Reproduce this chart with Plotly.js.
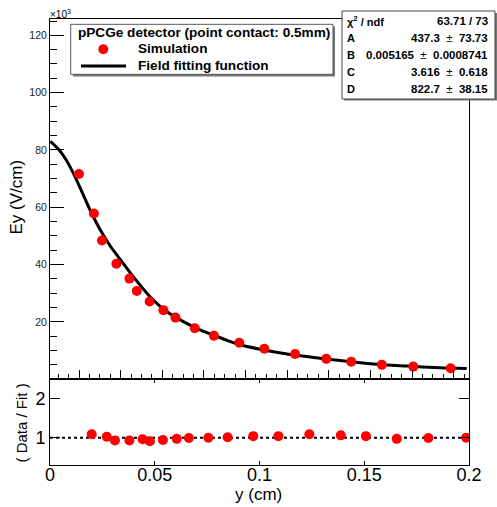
<!DOCTYPE html>
<html>
<head>
<meta charset="utf-8">
<script src="https://cdn.plot.ly/plotly-3.0.1.min.js"></script>
<style>html,body{margin:0;padding:0;background:#fff;}#chart{width:497px;height:507px;}</style>
</head>
<body>
<div id="chart"></div>
<script>
// ---- data (Ey in units of 10^3 V/cm) ----
const ySim = [0.0199,0.0271,0.0310,0.0379,0.0442,0.0477,0.0539,0.0605,0.0663,0.0756,0.0848,0.0970,0.1090,0.1238,0.1388,0.1508,0.1655,0.1806,0.1986];
const eySim = [71.6,57.8,48.4,40.3,35.1,30.8,27.1,24.1,21.5,17.8,15.2,12.7,10.6,8.8,7.1,6.1,5.0,4.4,3.8];
const ratio = [1.088,1.026,0.93,0.93,0.96,0.91,0.94,0.97,0.99,1.0,1.01,1.04,1.04,1.09,1.06,1.04,0.97,0.99,1.0];
const yFit = [0.0062,0.0100,0.0132,0.0172,0.0220,0.0268,0.0316,0.0357,0.0381,0.0460,0.0541,0.0621,0.0701,0.0781,0.0862,0.0917,0.0973,0.1134,0.1294,0.1454,0.1614,0.1775,0.1935,0.2063];
const eyFit = [83.0,80.3,77.2,71.9,64.3,56.7,50.3,45.7,43.4,35.8,28.8,23.6,20.1,17.2,14.9,13.4,12.0,9.6,7.9,6.5,5.3,4.6,4.0,3.7];
const topTicks = [20,40,60,80,100,120];
const statLabels = ["χ<sup>2</sup> / ndf","A","B","C","D"];
const statValues = ["63.71 / 73","437.3 ± 73.73","0.005165 ± 0.0008741","3.616 ± 0.618","822.7 ± 38.15"];
const legendHeader = "pPCGe detector (point contact: 0.5mm)";
const legendNames = ["Simulation","Field fitting function"];
const refLevel = 1;

// ---- pixel -> paper helpers ----
const L=50,R=469,T=19,B=465;
const px = v => (v-L)/(R-L);
const py = v => (B-v)/(B-T);
const FONT = "Liberation Sans, Arial, Helvetica, sans-serif";

const traces = [
  {x: yFit, y: eyFit, xaxis:'x2', yaxis:'y2', mode:'lines', line:{color:'#000', width:3, shape:'spline', smoothing:0.8}, hoverinfo:'skip'},
  {x: ySim, y: eySim, xaxis:'x2', yaxis:'y2', mode:'markers', marker:{color:'#ff0000', size:10}},
  {x: ySim, y: ratio, xaxis:'x', yaxis:'y', mode:'markers', marker:{color:'#ff0000', size:10}}
];

const shapes = [];
const annotations = [];

// ratio reference line
shapes.push({type:'line', xref:'x', yref:'y', x0:0, x1:0.2, y0:refLevel, y1:refLevel, line:{color:'#000', width:2, dash:'3px,3px'}, layer:'below'});

// legend box with shadow
shapes.push({type:'rect', xref:'paper', yref:'paper', x0:px(73), x1:px(335), y0:py(76.5), y1:py(26.5), fillcolor:'#777', line:{width:0}});
shapes.push({type:'rect', xref:'paper', yref:'paper', x0:px(70.7), x1:px(333), y0:py(74.3), y1:py(24.3), fillcolor:'#fff', line:{color:'#555', width:1}});
shapes.push({type:'circle', xref:'paper', yref:'paper', x0:px(98.3), x1:px(108.3), y0:py(54.3), y1:py(44.3), fillcolor:'#ff0000', line:{width:0}});
shapes.push({type:'line', xref:'paper', yref:'paper', x0:px(81), x1:px(126), y0:py(66), y1:py(66), line:{color:'#000', width:3}});

// stats box with shadow
shapes.push({type:'rect', xref:'paper', yref:'paper', x0:px(344), x1:px(497), y0:py(100.5), y1:py(13), fillcolor:'#777', line:{width:0}});
shapes.push({type:'rect', xref:'paper', yref:'paper', x0:px(342), x1:px(495), y0:py(99), y1:py(11), fillcolor:'#fff', line:{color:'#444', width:1}});

annotations.push({xref:'paper', yref:'paper', x:px(76), y:py(32.5), xanchor:'left', yanchor:'middle', showarrow:false,
  text:'<b>'+legendHeader+'</b>', font:{family:FONT, size:13.6, color:'#000'}});
annotations.push({xref:'paper', yref:'paper', x:px(136), y:py(48.8), xanchor:'left', yanchor:'middle', showarrow:false,
  text:'<b>'+legendNames[0]+'</b>', font:{family:FONT, size:13.6, color:'#000'}});
annotations.push({xref:'paper', yref:'paper', x:px(136), y:py(65.5), xanchor:'left', yanchor:'middle', showarrow:false,
  text:'<b>'+legendNames[1]+'</b>', font:{family:FONT, size:13.6, color:'#000'}});

const rowY = [20.7,38.3,55,71.7,89.3];
statLabels.forEach((s,i)=>{
  annotations.push({xref:'paper', yref:'paper', x:px(345), y:py(rowY[i]), xanchor:'left', yanchor:'middle', showarrow:false,
    text:'<b>'+s+'</b>', font:{family:FONT, size:11, color:'#000'}});
  annotations.push({xref:'paper', yref:'paper', x:px(490), y:py(rowY[i]), xanchor:'right', yanchor:'middle', showarrow:false,
    text:'<b>'+statValues[i].replace(' ± ','</b>  ±  <b>')+'</b>', font:{family:FONT, size:11.5, color:'#000'}});
});

// exponent label
annotations.push({xref:'paper', yref:'paper', x:px(48), y:py(14), xanchor:'left', yanchor:'middle', showarrow:false,
  text:'×10<sup>3</sup>', font:{family:FONT, size:10, color:'#000'}});
// axis titles
annotations.push({xref:'paper', yref:'paper', x:px(15.5), y:py(197), xanchor:'center', yanchor:'middle', showarrow:false, textangle:-90,
  text:'Ey (V/cm)', font:{family:FONT, size:17, color:'#000'}});
annotations.push({xref:'paper', yref:'paper', x:px(20.5), y:py(423), xanchor:'center', yanchor:'middle', showarrow:false, textangle:-90,
  text:'( Data / Fit )', font:{family:FONT, size:15, color:'#000'}});
annotations.push({xref:'paper', yref:'paper', x:px(258.5), y:py(494), xanchor:'center', yanchor:'middle', showarrow:false,
  text:'y (cm)', font:{family:FONT, size:17, color:'#000'}});

const split = py(379.2);
const layout = {
  width:497, height:507,
  margin:{l:L, r:497-R, t:T, b:507-B, pad:0},
  paper_bgcolor:'#fff', plot_bgcolor:'#fff',
  showlegend:false,
  font:{family:FONT, color:'#000'},
  xaxis:{domain:[0,1], anchor:'y', range:[0,0.2], tick0:0, dtick:0.05, ticks:'inside', ticklen:4, tickcolor:'#000',
    showline:true, linecolor:'#000', linewidth:1, mirror:'ticks', showgrid:false, zeroline:false,
    ticklabelstandoff:-7,
    tickfont:{family:FONT, size:18, color:'#000'}},
  yaxis:{domain:[0,split], anchor:'x', range:[0.295,2.51], tick0:0, dtick:1, ticks:'inside', ticklen:10, tickcolor:'#000',
    showline:true, linecolor:'#000', linewidth:1, mirror:'ticks', showgrid:false, zeroline:false,
    tickfont:{family:FONT, size:18, color:'#000'}},
  xaxis2:{domain:[0,1], anchor:'y2', range:[0.006,0.2074], tick0:0, dtick:0.02, ticks:'inside', ticklen:9, tickcolor:'#000',
    minor:{tick0:0, dtick:0.005, ticks:'inside', ticklen:5, tickcolor:'#000'},
    showticklabels:false, showline:true, linecolor:'#000', linewidth:1, mirror:true, showgrid:false, zeroline:false},
  yaxis2:{domain:[split,1], anchor:'x2', range:[0,125.7], tickmode:'array', tickvals:topTicks, ticks:'inside', ticklen:14, tickcolor:'#000',
    minor:{tickmode:'linear', tick0:0, dtick:5, ticks:'inside', ticklen:7, tickcolor:'#000'},
    showline:true, linecolor:'#000', linewidth:1, mirror:true, showgrid:false, zeroline:false,
    tickfont:{family:FONT, size:10.5, color:'#222'}},
  shapes:shapes,
  annotations:annotations
};

Plotly.newPlot('chart', traces, layout, {staticPlot:true, displayModeBar:false});
</script>
</body>
</html>
